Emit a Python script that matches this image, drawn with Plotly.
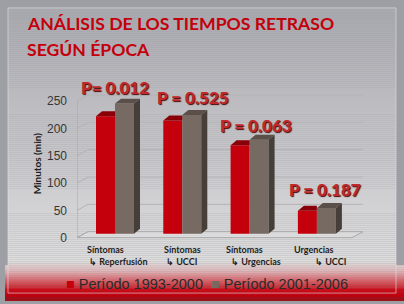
import plotly.graph_objects as go

# ---------------- data ----------------
cat_line1 = ["Síntomas", "Síntomas", "Síntomas", "Urgencias"]
cat_line2 = ["↳ Reperfusión", "↳ UCCI", "↳ Urgencias", "↳ UCCI"]
series_names = ["Período 1993-2000", "Período 2001-2006"]
values_1993_2000 = [215, 207, 162, 42]
values_2001_2006 = [238, 217, 172, 47]
p_values = ["P= 0.012", "P = 0.525", "P = 0.063", "P = 0.187"]
y_ticks = [0, 50, 100, 150, 200, 250]
title_lines = ["ANÁLISIS DE LOS TIEMPOS RETRASO", "SEGÚN ÉPOCA"]
y_title = "Minutos (min)"

# ---------------- geometry (pixels) ----------------
W, H = 404, 304
X_LEFT, X_RIGHT = 77, 363          # plot domain in px
C0, KX = 115, 67.3                 # first group center px, px per category
Y_ZERO, KY = 240, 0.552            # px of value 0, px per unit
Y_BOT, Y_TOP = 244, 60             # plot domain in px

def px2x(p):
    return (p - C0) / KX

def ux(p):   # px length -> x units
    return p / KX

def uy(p):   # px length -> y units
    return p / KY

x_range = [px2x(X_LEFT), px2x(X_RIGHT)]
y_range = [-(Y_BOT - Y_ZERO) / KY, (Y_ZERO - Y_TOP) / KY]

BAR_W = ux(19)
BASE = uy(4)
DX, DY = ux(6), uy(5)
BDX, BDY = ux(11), uy(6)

RED_F, RED_T = "#c4000c", "#8a0008"
GRY_F, GRY_T, GRY_S = "#776a62", "#5a4f49", "#463e39"

fig = go.Figure()

# ---- background: panel gradient and red footer band ----
shapes = []
stops = [(8, (167, 167, 174)), (120, (192, 192, 196)), (230, (214, 214, 216)),
         (264, (222, 222, 222)), (274, (222, 180, 182)), (284, (214, 90, 96)),
         (293, (198, 14, 26)), (300, (186, 0, 14))]

def col_at(py):
    for (a, ca), (b, cb) in zip(stops[:-1], stops[1:]):
        if a <= py <= b:
            t = (py - a) / (b - a)
            c = [round(ca[i] + (cb[i] - ca[i]) * t) for i in range(3)]
            return "rgb(%d,%d,%d)" % tuple(c)
    return "rgb(186,0,14)"

py = 8
while py < 300:
    x0 = 8 if py < 268 else 5
    x1 = 396 if py < 268 else 404
    shapes.append(dict(type="rect", xref="paper", yref="paper",
                       x0=x0 / W, x1=x1 / W, y0=1 - (py + 2) / H, y1=1 - py / H,
                       fillcolor=col_at(py + 1), line=dict(width=0), layer="below"))
    py += 2
shapes.append(dict(type="rect", xref="paper", yref="paper", x0=5 / W, x1=1,
                   y0=0, y1=1 - 300 / H, fillcolor="#a01018", line=dict(width=0), layer="below"))
# panel outline
shapes.append(dict(type="rect", xref="paper", yref="paper", x0=8 / W, x1=396 / W,
                   y0=1 - 296 / H, y1=1 - 8 / H, fillcolor="rgba(0,0,0,0)",
                   line=dict(color="rgba(225,225,228,0.6)", width=1), layer="below"))

# ---- 3D frame: back-wall gridlines, floor, axis line ----
xl, xr = x_range
for v in y_ticks:
    shapes.append(dict(type="line", xref="x", yref="y", x0=xl, y0=v, x1=xl + BDX, y1=v + BDY,
                       line=dict(color="#b4b4b6", width=1), layer="below"))
    if v > 0:
        shapes.append(dict(type="line", xref="x", yref="y", x0=xl + BDX, y0=v + BDY, x1=xr, y1=v + BDY,
                           line=dict(color="#b4b4b6", width=1), layer="below"))
shapes.append(dict(type="path", xref="x", yref="y",
                   path="M%f,%f L%f,%f L%f,%f L%f,%f Z" % (xl, 0, xl + BDX, BDY, xr, BDY, xr - BDX, 0),
                   fillcolor="rgba(235,235,235,0.35)", line=dict(color="#a8a8aa", width=1), layer="below"))
shapes.append(dict(type="line", xref="x", yref="y", x0=xl, y0=0, x1=xl, y1=y_ticks[-1],
                   line=dict(color="#a8a8aa", width=1), layer="below"))

# ---- bars (front faces) ----
n = len(cat_line1)
xs = list(range(n))
fig.add_trace(go.Bar(x=[i - BAR_W / 2 for i in xs], y=values_1993_2000, base=BASE, width=BAR_W,
                     marker=dict(color=RED_F, line=dict(width=0)), name=series_names[0], showlegend=False))
fig.add_trace(go.Bar(x=[i + BAR_W / 2 for i in xs], y=values_2001_2006, base=BASE, width=BAR_W,
                     marker=dict(color=GRY_F, line=dict(width=0)), name=series_names[1], showlegend=False))

# ---- 3D top and side faces computed from values ----
for i in xs:
    t = BASE + values_1993_2000[i]
    x0, x1 = i - BAR_W, i
    fig.add_trace(go.Scatter(x=[x0, x0 + DX, x1, x1, x0], y=[t, t + DY, t + DY, t, t],
                             fill="toself", fillcolor=RED_T, mode="lines", line=dict(width=0),
                             hoverinfo="skip", showlegend=False))
    t = BASE + values_2001_2006[i]
    x0, x1 = i, i + BAR_W
    fig.add_trace(go.Scatter(x=[x0, x0 + DX, x1 + DX, x1, x0], y=[t, t + DY, t + DY, t, t],
                             fill="toself", fillcolor=GRY_T, mode="lines", line=dict(width=0),
                             hoverinfo="skip", showlegend=False))
    fig.add_trace(go.Scatter(x=[x1, x1 + DX, x1 + DX, x1, x1], y=[BASE, BASE + DY, t + DY, t, BASE],
                             fill="toself", fillcolor=GRY_S, mode="lines", line=dict(width=0),
                             hoverinfo="skip", showlegend=False))

# ---- annotations ----
ann = []
for k, yy in enumerate([24, 50]):
    ann.append(dict(text=title_lines[k], xref="paper", yref="paper", x=25 / W, y=1 - yy / H,
                    xanchor="left", yanchor="middle", showarrow=False,
                    font=dict(family="Lato", size=17.6, color="#c4000c", weight=700)))

p_pos = [(115, 88), (193, 98), (256, 127), (325, 191)]
for txt, (px_, py_) in zip(p_values, p_pos):
    ann.append(dict(text=txt, xref="paper", yref="paper", x=px_ / W, y=1 - py_ / H,
                    xanchor="center", yanchor="middle", showarrow=False,
                    font=dict(family="Lato", size=17, color="#c0282c", weight=900,
                              shadow="1px 1px 1px #4a0a0a")))

l1_shift = [-10, 0, -5, -3]
l2_shift = [3, -1, 6, 14]
for i in xs:
    ann.append(dict(text=cat_line1[i], xref="x", yref="paper", x=i, y=1 - 252 / H, xshift=l1_shift[i],
                    xanchor="center", yanchor="middle", showarrow=False,
                    font=dict(family="Lato", size=9, color="#1e1e1e", weight=700)))
    ann.append(dict(text=cat_line2[i], xref="x", yref="paper", x=i, y=1 - 264 / H, xshift=l2_shift[i],
                    xanchor="center", yanchor="middle", showarrow=False,
                    font=dict(family="Lato", size=9, color="#1e1e1e", weight=700)))

ann.append(dict(text=y_title, xref="paper", yref="paper", x=37 / W, y=1 - 165 / H,
                xanchor="center", yanchor="middle", textangle=-90, showarrow=False,
                font=dict(family="Lato", size=10, color="#1e1e1e", weight=700)))

legend_text = ("<span style='color:%s'>■</span> %s  <span style='color:%s'>■</span> %s"
               % (RED_F, series_names[0], GRY_F, series_names[1]))
ann.append(dict(text=legend_text, xref="paper", yref="paper", x=64 / W, y=1 - 287 / H,
                xanchor="left", yanchor="middle", showarrow=False,
                font=dict(family="Liberation Sans", size=14.5, color="#2a2a2a")))

fig.update_layout(
    width=W, height=H, margin=dict(l=0, r=0, t=0, b=0),
    paper_bgcolor="#9e9ea5", plot_bgcolor="rgba(0,0,0,0)",
    barmode="overlay", showlegend=False,
    xaxis=dict(domain=[X_LEFT / W, X_RIGHT / W], range=x_range, showgrid=False, zeroline=False,
               showticklabels=False, fixedrange=True),
    yaxis=dict(domain=[1 - Y_BOT / H, 1 - Y_TOP / H], range=y_range, showgrid=False, zeroline=False,
               tickvals=y_ticks, ticks="", ticklabelstandoff=9,
               tickfont=dict(family="Liberation Sans", size=12, color="#363636"), fixedrange=True),
    shapes=shapes, annotations=ann,
)

fig.write_html("out.html", config={"displayModeBar": False},
               post_script="document.body.style.margin='0';document.body.style.overflow='hidden';")
